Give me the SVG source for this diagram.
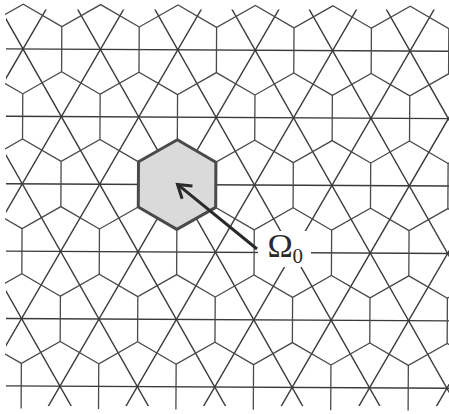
<svg xmlns="http://www.w3.org/2000/svg" xmlns:xlink="http://www.w3.org/1999/xlink" width="449" height="414" viewBox="0 0 449 414">
<style>
.tri{stroke:#3a3a3a;stroke-width:1.4;fill:none}
.hx{stroke:#4a4a4a;stroke-width:1.3;fill:none}
.cell0{fill:#dadada;stroke:#4a4a4a;stroke-width:3;stroke-linejoin:round}
.arrow{stroke:#2a2a2a;stroke-width:3;fill:none}
.lbl{font-family:"Liberation Serif","Times New Roman",serif;fill:#2a2a2a}
</style>
<defs>
<clipPath id="clipLines"><rect x="6" y="9.5" width="443" height="396.5"/></clipPath>
<clipPath id="clipHex"><rect x="5" y="0" width="444" height="414"/></clipPath>
<path id="hh" d="M-38.7,22.59V-22.59L0,-44.81L38.7,-22.59"/>
<marker id="ah" markerUnits="userSpaceOnUse" viewBox="-16 -11 20 22" refX="0" refY="0" markerWidth="20" markerHeight="22" orient="auto">
<path d="M-12.6,-8.2L0,0L-12.6,8.2" fill="none" stroke="#2a2a2a" stroke-width="3" stroke-linejoin="miter"/>
</marker>
</defs>
<rect width="449" height="414" fill="#ffffff"/>
<g clip-path="url(#clipLines)">
<g id="lattice-lines" class="tri" transform="rotate(0.3 23 49)">
<line x1="-10" y1="49" x2="470" y2="49"/>
<line x1="-10" y1="116.4" x2="470" y2="116.4"/>
<line x1="-10" y1="183.8" x2="470" y2="183.8"/>
<line x1="-10" y1="251.2" x2="470" y2="251.2"/>
<line x1="-10" y1="318.6" x2="470" y2="318.6"/>
<line x1="-10" y1="386" x2="470" y2="386"/>
<line x1="-247.9" y1="-18.4" x2="23" y2="453.4"/>
<line x1="-170.5" y1="-18.4" x2="100.4" y2="453.4"/>
<line x1="-93.1" y1="-18.4" x2="177.8" y2="453.4"/>
<line x1="-15.7" y1="-18.4" x2="255.2" y2="453.4"/>
<line x1="61.7" y1="-18.4" x2="332.6" y2="453.4"/>
<line x1="139.1" y1="-18.4" x2="410" y2="453.4"/>
<line x1="216.5" y1="-18.4" x2="487.4" y2="453.4"/>
<line x1="293.9" y1="-18.4" x2="564.8" y2="453.4"/>
<line x1="371.3" y1="-18.4" x2="642.2" y2="453.4"/>
<line x1="61.7" y1="-18.4" x2="-209.2" y2="453.4"/>
<line x1="139.1" y1="-18.4" x2="-131.8" y2="453.4"/>
<line x1="216.5" y1="-18.4" x2="-54.4" y2="453.4"/>
<line x1="293.9" y1="-18.4" x2="23" y2="453.4"/>
<line x1="371.3" y1="-18.4" x2="100.4" y2="453.4"/>
<line x1="448.7" y1="-18.4" x2="177.8" y2="453.4"/>
<line x1="526.1" y1="-18.4" x2="255.2" y2="453.4"/>
<line x1="603.5" y1="-18.4" x2="332.6" y2="453.4"/>
<line x1="680.9" y1="-18.4" x2="410" y2="453.4"/>
</g>
</g>
<g clip-path="url(#clipHex)">
<g id="cells" class="hx" transform="rotate(0.3 23 49)">
<g transform="translate(0 49)"><use href="#hh" x="23"/><use href="#hh" x="100.4"/><use href="#hh" x="177.8"/><use href="#hh" x="255.2"/><use href="#hh" x="332.6"/><use href="#hh" x="410"/><use href="#hh" x="487.4"/></g>
<g transform="translate(0 116.4)"><use href="#hh" x="-15.7"/><use href="#hh" x="61.7"/><use href="#hh" x="139.1"/><use href="#hh" x="216.5"/><use href="#hh" x="293.9"/><use href="#hh" x="371.3"/><use href="#hh" x="448.7"/></g>
<g transform="translate(0 183.8)"><use href="#hh" x="23"/><use href="#hh" x="100.4"/><use href="#hh" x="177.8"/><use href="#hh" x="255.2"/><use href="#hh" x="332.6"/><use href="#hh" x="410"/><use href="#hh" x="487.4"/></g>
<g transform="translate(0 251.2)"><use href="#hh" x="-15.7"/><use href="#hh" x="61.7"/><use href="#hh" x="139.1"/><use href="#hh" x="216.5"/><use href="#hh" x="293.9"/><use href="#hh" x="371.3"/><use href="#hh" x="448.7"/></g>
<g transform="translate(0 318.6)"><use href="#hh" x="23"/><use href="#hh" x="100.4"/><use href="#hh" x="177.8"/><use href="#hh" x="255.2"/><use href="#hh" x="332.6"/><use href="#hh" x="410"/><use href="#hh" x="487.4"/></g>
<g transform="translate(0 386)"><use href="#hh" x="-15.7"/><use href="#hh" x="61.7"/><use href="#hh" x="139.1"/><use href="#hh" x="216.5"/><use href="#hh" x="293.9"/><use href="#hh" x="371.3"/><use href="#hh" x="448.7"/></g>
</g>
</g>
<g id="omega0-cell" transform="rotate(0.3 23 49)">
<polygon class="cell0" points="177.8,138.99 216.5,161.21 216.5,206.39 177.8,228.61 139.1,206.39 139.1,161.21"/>
</g>
<g id="label">
<rect x="258" y="231" width="53" height="36" fill="#ffffff"/>
<text class="lbl" x="267.5" y="257" font-size="34">Ω</text>
<text class="lbl" x="292.5" y="263" font-size="21">0</text>
</g>
<g id="connectors">
<line class="arrow" x1="257" y1="249" x2="177.5" y2="184.4" marker-end="url(#ah)"/>
</g>
</svg>
